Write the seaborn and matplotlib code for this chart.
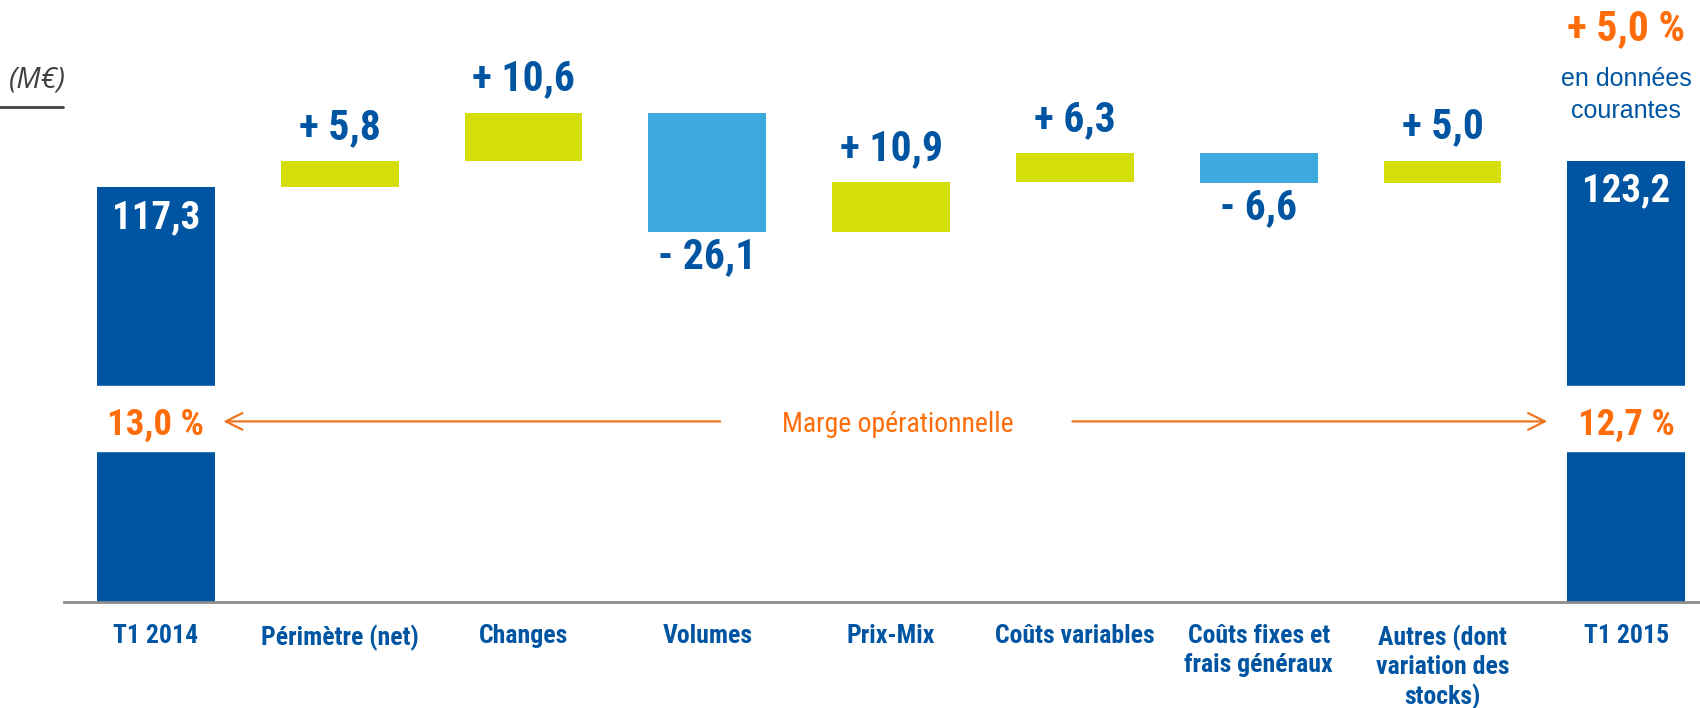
import numpy as np
import pandas as pd
import matplotlib
matplotlib.use("Agg")
import matplotlib.pyplot as plt
import seaborn as sns

# ---------------- data ----------------
categories = ["T1 2014", "Périmètre (net)", "Changes", "Volumes", "Prix-Mix",
              "Coûts variables", "Coûts fixes et\nfrais généraux",
              "Autres (dont\nvariation des\nstocks)", "T1 2015"]
start_value = 117.3
deltas = [5.8, 10.6, -26.1, 10.9, 6.3, -6.6, 5.0]
end_value = 123.2
value_labels = ["117,3", "+ 5,8", "+ 10,6", "- 26,1", "+ 10,9", "+ 6,3",
                "- 6,6", "+ 5,0", "123,2"]
margin_labels = ["13,0 %", "12,7 %"]
margin_title = "Marge opérationnelle"
growth_label = "+ 5,0 %"
growth_sub = "en données\ncourantes"
unit_label = "(M€)"

# ---------------- styles ----------------
DARK = "#0055A2"
LIGHT = "#3EA9DD"
GREEN = "#D4DF0A"
ORANGE = "#FF6C0A"
ARROW = "#EE7520"
NARROW = ["Liberation Sans Narrow", "Roboto Condensed", "Liberation Sans", "DejaVu Sans"]
REG = ["Liberation Sans", "DejaVu Sans"]

sns.set_theme(style="white")
plt.rcParams["font.family"] = REG

# waterfall geometry derived from data
cum = start_value + np.cumsum(deltas)
prev = np.concatenate([[start_value], cum[:-1]])
tops = [start_value] + list(np.maximum(prev, cum)) + [end_value]
bottoms = [0.0] + list(np.minimum(prev, cum)) + [0.0]
heights = [t - b for t, b in zip(tops, bottoms)]
kinds = ["total"] + ["up" if d > 0 else "down" for d in deltas] + ["total"]
color_of = {"total": DARK, "up": GREEN, "down": LIGHT}
palette = {c: color_of[k] for c, k in zip(categories, kinds)}

df = pd.DataFrame({"category": categories, "height": heights})

fig = plt.figure(figsize=(17, 7.08), dpi=100)
W, H = 1700, 708
ax_left, ax_right = 64, 1700
ax_top, ax_bottom = 0, 602
ax = fig.add_axes([ax_left / W, 1 - ax_bottom / H, (ax_right - ax_left) / W,
                   (ax_bottom - ax_top) / H])

sns.barplot(data=df, x="category", y="height", hue="category", palette=palette,
            width=0.64, legend=False, ax=ax, saturation=1)

for p, b, h in zip(ax.patches, bottoms, heights):
    p.set_y(b)
    p.set_height(h)
    p.set_edgecolor("none")

step = 183.8
ax.set_xlim(-0.5, -0.5 + (ax_right - ax_left) / step)
ax.set_ylim(26.4, 158.4)

# white gap for margin row
ax.axhspan(59.5, 73.8, color="white", zorder=3)

# value labels
n = len(categories)
for i in range(n):
    if kinds[i] == "total":
        ax.annotate(value_labels[i], (i, tops[i]), xytext=(0, -29.5),
                    textcoords="offset points", ha="center", va="baseline",
                    color="white", fontsize=28, fontweight="bold",
                    family=NARROW, zorder=5)
    elif kinds[i] == "up":
        ax.annotate(value_labels[i], (i, tops[i]), xytext=(0, 16),
                    textcoords="offset points", ha="center", va="baseline",
                    color=DARK, fontsize=30, fontweight="bold",
                    family=NARROW, zorder=5)
    else:
        ax.annotate(value_labels[i], (i, bottoms[i]), xytext=(0, -26),
                    textcoords="offset points", ha="center", va="baseline",
                    color=DARK, fontsize=30, fontweight="bold",
                    family=NARROW, zorder=5)

# margin row
ymid = 65.3
ax.text(0, ymid, margin_labels[0], ha="center", va="center", color=ORANGE,
        fontsize=26.5, fontweight="bold", family=NARROW, zorder=5)
ax.text(n - 1, ymid, margin_labels[1], ha="center", va="center", color=ORANGE,
        fontsize=26.5, fontweight="bold", family=NARROW, zorder=5)
ax.text(4.034, ymid, margin_title, ha="center", va="center", color=ORANGE,
        fontsize=20, family=NARROW, zorder=5)
arrow_kw = dict(arrowstyle="->,head_length=1.0,head_width=0.5", color=ARROW,
                lw=1.6, shrinkA=0, shrinkB=0)
ax.annotate("", xy=(0.367, 66.0), xytext=(3.07, 66.0),
            arrowprops=arrow_kw, zorder=5)
ax.annotate("", xy=(7.57, 66.0), xytext=(4.987, 66.0),
            arrowprops=arrow_kw, zorder=5)

# growth text at top right
ax.text(n - 1, 152.2, growth_label, ha="center", va="center", color=ORANGE,
        fontsize=30, fontweight="bold", family=NARROW, zorder=5)
ax.text(n - 1, 137.6, growth_sub, ha="center", va="center", color=DARK,
        fontsize=18, family=REG, linespacing=1.45, zorder=5)

# axes styling
for s in ["left", "right", "top"]:
    ax.spines[s].set_visible(False)
ax.spines["bottom"].set_color("#8C8C8C")
ax.spines["bottom"].set_linewidth(2)
ax.set_yticks([])
ax.set_xlabel("")
ax.set_ylabel("")
ax.tick_params(axis="x", length=0, pad=16)
ax.set_xticks(range(n))
ax.set_xticklabels(categories, color=DARK, fontsize=18.5, fontweight="bold",
                   family=NARROW, linespacing=1.24, va="top")

# unit label with underline
fig.text(37 / W, 1 - 80 / H, unit_label, ha="center", va="center",
         fontsize=21, style="italic", color="#404040", family=["Open Sans", "DejaVu Sans"])
fig.add_artist(plt.Line2D([0, 63 / W], [1 - 107 / H, 1 - 107 / H],
                          color="#404040", lw=2))

fig.savefig("out.png", dpi=100)
